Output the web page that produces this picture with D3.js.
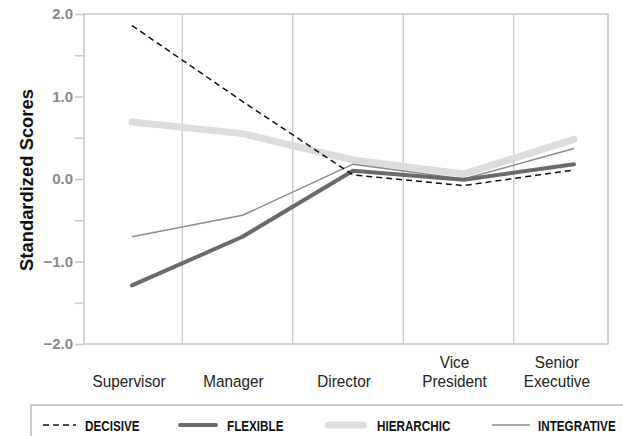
<!DOCTYPE html>
<html>
<head>
<meta charset="utf-8">
<script src="https://cdn.jsdelivr.net/npm/d3@7"></script>
<style>
  html, body { margin: 0; padding: 0; background: #fff; }
  svg { display: block; }
</style>
</head>
<body>
<svg id="chart" width="623" height="436"></svg>
<script>
// Organisational levels along the x axis
const levels = ["Supervisor", "Manager", "Director", "Vice President", "Senior Executive"];
const levelLabels = [["Supervisor"], ["Manager"], ["Director"], ["Vice", "President"], ["Senior", "Executive"]];

// Standardized scores per decision style
const decisive    = [1.86, 0.94, 0.05, -0.08, 0.11];
const flexible    = [-1.29, -0.70, 0.10, -0.01, 0.18];
const hierarchic  = [0.69, 0.55, 0.23, 0.06, 0.48];
const integrative = [-0.70, -0.44, 0.18, 0.00, 0.37];

const yTicks = [-2, -1.5, -1, -0.5, 0, 0.5, 1, 1.5, 2];
const yLabelTicks = [-2, -1, 0, 1, 2];

const series = [
  { name: "HIERARCHIC",  values: hierarchic,  color: "#dcdcdc", width: 7,   dash: null },
  { name: "INTEGRATIVE", values: integrative, color: "#8c8c8c", width: 1.5, dash: null },
  { name: "FLEXIBLE",    values: flexible,    color: "#6a6a6a", width: 4,   dash: null },
  { name: "DECISIVE",    values: decisive,    color: "#111111", width: 1.5, dash: "6,4" }
];
const legendOrder = ["DECISIVE", "FLEXIBLE", "HIERARCHIC", "INTEGRATIVE"];

const svg = d3.select("#chart");
const plot = { left: 84, right: 608, top: 14, bottom: 344 };
const frameColor = "#c9c9c9";
const sans = "'Liberation Sans', Arial, Helvetica, sans-serif";

const x = d3.scalePoint().domain(levels).range([132, 574]);
const y = d3.scaleLinear().domain([-2, 2]).range([plot.bottom, plot.top]);

// Vertical separators between levels
const step = x.step();
const sepX = levels.slice(0, -1).map(d => x(d) + step / 2 - 5);
svg.append("g").selectAll("line")
  .data(sepX)
  .join("line")
  .attr("x1", d => d)
  .attr("x2", d => d)
  .attr("y1", plot.top)
  .attr("y2", plot.bottom)
  .attr("stroke", frameColor)
  .attr("stroke-width", 1.3);

// Plot frame
svg.append("rect")
  .attr("x", plot.left).attr("y", plot.top)
  .attr("width", plot.right - plot.left)
  .attr("height", plot.bottom - plot.top)
  .attr("fill", "none")
  .attr("stroke", frameColor)
  .attr("stroke-width", 1.6);

// Y axis ticks and labels
const yAxis = d3.axisLeft(y)
  .tickValues(yTicks)
  .tickSize(9)
  .tickPadding(2)
  .tickFormat(d => yLabelTicks.includes(d) ? (d < 0 ? "\u2212" : "") + Math.abs(d).toFixed(1) : "");
const yg = svg.append("g").attr("transform", `translate(${plot.left},0)`).call(yAxis);
yg.select(".domain").remove();
yg.selectAll(".tick line").attr("stroke", frameColor).attr("stroke-width", 1.6);
yg.selectAll(".tick text")
  .attr("fill", "#8a8a8a")
  .attr("font-family", sans)
  .attr("font-weight", "bold")
  .attr("font-size", 15);

// Y axis title
svg.append("text")
  .attr("transform", `translate(33,${(plot.top + plot.bottom) / 2 + 1}) rotate(-90)`)
  .attr("text-anchor", "middle")
  .attr("font-family", sans)
  .attr("font-weight", "bold")
  .attr("font-size", 18.4)
  .attr("fill", "#111")
  .text("Standardized Scores");

// Category labels, centred between the separators, set slightly condensed
const edges = [plot.left, ...sepX, plot.right];
const catG = svg.append("g")
  .attr("font-family", sans)
  .attr("font-size", 17)
  .attr("fill", "#222")
  .attr("text-anchor", "middle");
levels.forEach((lv, i) => {
  const lines = levelLabels[i];
  const cx = (edges[i] + edges[i + 1]) / 2 - 4;
  const t = catG.append("text")
    .attr("transform", `translate(${cx},${387 - (lines.length - 1) * 19.5}) scale(0.9,1)`);
  lines.forEach((s, j) => {
    t.append("tspan").attr("x", 0).attr("dy", j === 0 ? 0 : 19.5).text(s);
  });
});

// Series lines
const line = d3.line()
  .x((d, i) => x(levels[i]))
  .y(d => y(d));
svg.append("g").selectAll("path")
  .data(series)
  .join("path")
  .attr("d", d => line(d.values))
  .attr("fill", "none")
  .attr("stroke", d => d.color)
  .attr("stroke-width", d => d.width)
  .attr("stroke-dasharray", d => d.dash)
  .attr("stroke-linecap", d => d.width >= 4 ? "round" : "butt")
  .attr("stroke-linejoin", "round");

// Legend box
svg.append("path")
  .attr("d", "M31,440 L31,405 L630,405")
  .attr("fill", "none")
  .attr("stroke", frameColor)
  .attr("stroke-width", 2);

const legendSwatch = { DECISIVE: [43, 76], FLEXIBLE: [178, 218], HIERARCHIC: [325, 367], INTEGRATIVE: [492, 530] };
const legendText = { DECISIVE: 85, FLEXIBLE: 227, HIERARCHIC: 377, INTEGRATIVE: 538 };
const lg = svg.append("g");
legendOrder.forEach(name => {
  const s = series.find(d => d.name === name);
  const [x0, x1] = legendSwatch[name];
  const inset = s.width >= 4 ? s.width / 2 : 0;
  lg.append("line")
    .attr("x1", x0 + inset)
    .attr("x2", x1 - inset)
    .attr("y1", 425).attr("y2", 425)
    .attr("stroke", s.color)
    .attr("stroke-width", s.width)
    .attr("stroke-dasharray", s.dash)
    .attr("stroke-linecap", s.width >= 4 ? "round" : "butt");
  lg.append("text")
    .attr("transform", `translate(${legendText[name]},430.5) scale(0.78,1)`)
    .attr("font-family", sans)
    .attr("font-weight", "bold")
    .attr("font-size", 15)
    .attr("fill", "#111")
    .text(name);
});
</script>
</body>
</html>
